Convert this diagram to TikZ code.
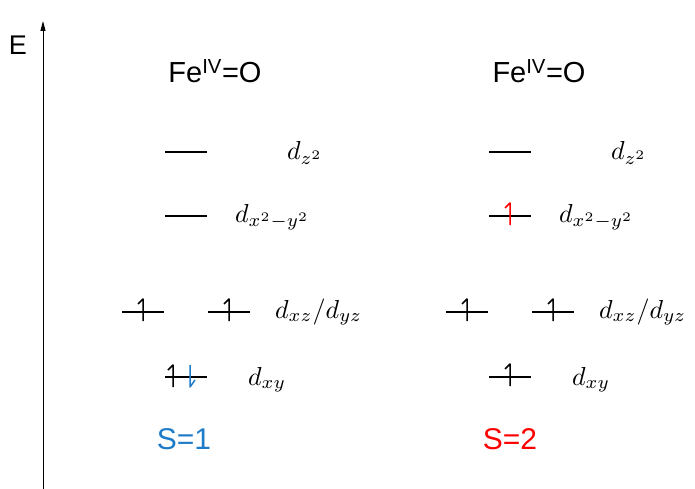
\documentclass[tikz,border=0pt]{standalone}
\usepackage{fontspec}
\setmainfont{Liberation Sans}
\usepackage{tikz}
\usetikzlibrary{arrows.meta,calc}
\definecolor{INK}{HTML}{000000}
\definecolor{SBLUE}{HTML}{1E7BC8}
\definecolor{SRED}{HTML}{FF0000}
\newcommand\orbtxt[1]{\scalebox{2.6}[2.6]{$#1$}}

\begin{document}
\begin{tikzpicture}[x=1pt,y=-1pt]
\tikzset{lev/.style={line width=2.8pt,INK},el/.style={line width=1.5pt,line join=round},
 orb/.style={anchor=base west,inner sep=0pt},
 ttl/.style={inner sep=0pt,font=\fontsize{29}{34}\selectfont},spin/.style={inner sep=0pt,font=\fontsize{30}{35}\selectfont}}
\useasboundingbox (0,0) rectangle (695,489);
% energy axis
\draw[-{Triangle[length=10pt,width=5pt]},line width=1pt,INK] (43,489) -- (43,21);
\node[ttl,font=\fontsize{27}{31}\selectfont] (E) at (18,45) {E};
% the two Fe(IV)=O columns
\foreach \dx/\nm in {0/L,324/R}{
 \node[ttl] (title\nm) at (215+\dx,71) {Fe\textsuperscript{IV}=O};
 \coordinate (z\nm) at (186+\dx,152);\coordinate (xy2\nm) at (186+\dx,216);
 \coordinate (xz\nm) at (143+\dx,312);\coordinate (yz\nm) at (229+\dx,312);
 \coordinate (xy\nm) at (186+\dx,377);
 \foreach \c in {z,xy2,xz,yz,xy}{\draw[lev] ($(\c\nm)+(-21,0)$) -- ($(\c\nm)+(21,0)$);}
 \node[orb] (lz\nm) at (287+\dx,160) {\orbtxt{d_{z^2}}};
 \node[orb] (lxy2\nm) at (235+\dx,222) {\orbtxt{d_{x^2-y^2}}};
 \node[orb] (lxz\nm) at (275+\dx,318) {\orbtxt{d_{xz}/d_{yz}}};
 \node[orb] (lxy\nm) at (248+\dx,385) {\orbtxt{d_{xy}}};
}
% electrons
\newcommand\eup[2][INK]{\draw[el,#1] ($(#2)+(0,9)$) -- ++(0,-22) -- ++(-5,5);}
\eup{xzL}\eup{yzL}\eup{xzR}\eup{yzR}\eup{xyR}
\draw[el,INK] ($(xyL)+(-13,10)$) -- ++(0,-22) -- ++(-5,5);
\draw[el,SBLUE] ($(xyL)+(4,-12)$) -- ++(0,22) -- ++(5,-7);
\eup[SRED]{xy2R}
% spin states
\node[spin,SBLUE] (S1) at (184,439) {S=1};
\node[spin,SRED] (S2) at (510,439) {S=2};
\end{tikzpicture}
\end{document}
